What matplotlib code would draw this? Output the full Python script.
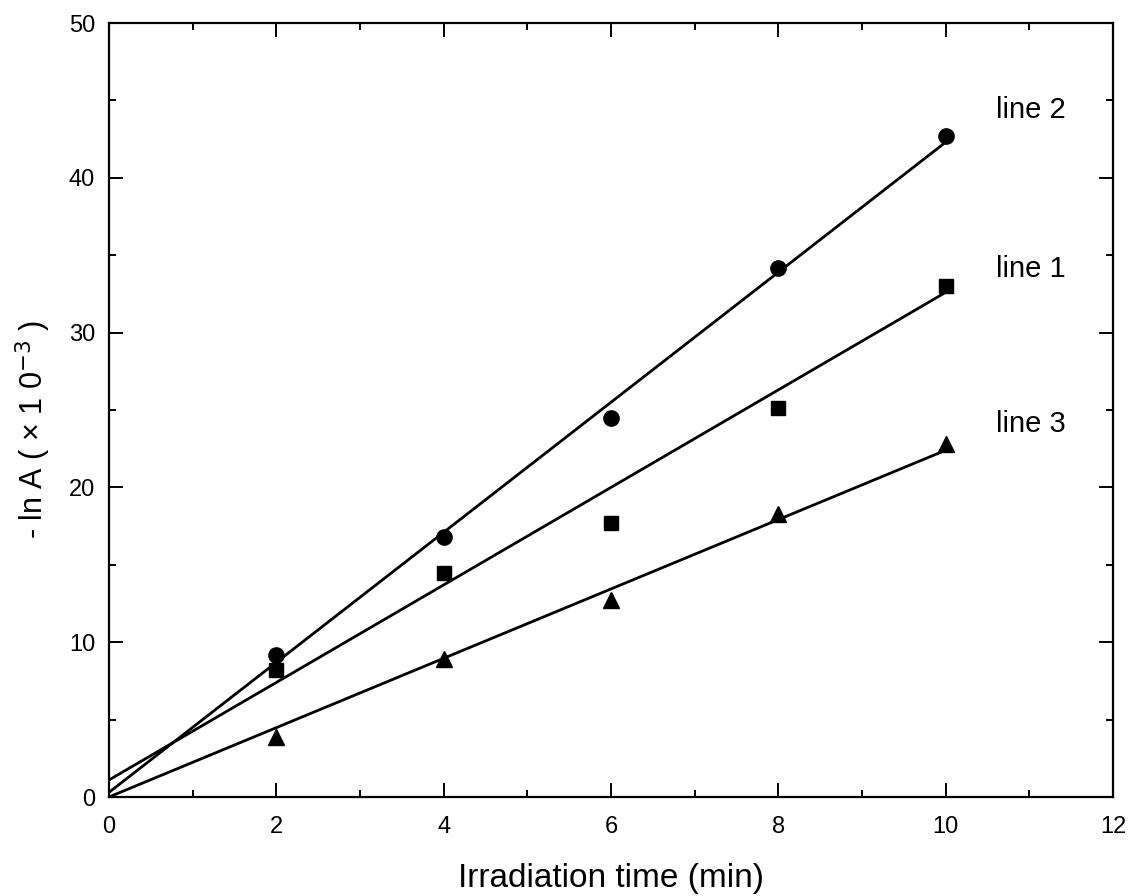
import matplotlib
matplotlib.use("Agg")
import matplotlib.pyplot as plt
import numpy as np
from matplotlib.ticker import MultipleLocator

plt.rcParams['font.family'] = ['Liberation Sans', 'DejaVu Sans']

x_pts = [2, 4, 6, 8, 10]
line1_y = [8.2, 14.5, 17.7, 25.1, 33.0]   # squares
line2_y = [9.2, 16.8, 24.5, 34.2, 42.7]   # circles
line3_y = [3.9, 8.9, 12.7, 18.3, 22.8]    # triangles

# fitted lines (intercept, slope)
line1_fit = (1.1, 3.15)
line2_fit = (0.3, 4.20)
line3_fit = (0.0, 2.24)
fit_x = [0, 10]

labels = ["line 1", "line 2", "line 3"]
label_pos = [(10.6, 34.1), (10.6, 44.4), (10.6, 24.1)]

fig = plt.figure(figsize=(11.31, 8.96), dpi=100)
ax = fig.add_axes([109/1131, 1 - 797/896, (1113-109)/1131, (797-23)/896])

for fit, ys, m, ms in [(line1_fit, line1_y, 's', 9.5),
                        (line2_fit, line2_y, 'o', 11),
                        (line3_fit, line3_y, '^', 12)]:
    fx = np.array(fit_x, dtype=float)
    ax.plot(fx, fit[0] + fit[1] * fx, color='black', lw=2.0)
    ax.plot(x_pts, ys, linestyle='none', marker=m, color='black', ms=ms)

for lab, (lx, ly) in zip(labels, label_pos):
    ax.text(lx, ly, lab, fontsize=21, ha='left', va='center')

ax.set_xlim(0, 12)
ax.set_ylim(0, 50)
ax.xaxis.set_major_locator(MultipleLocator(2))
ax.xaxis.set_minor_locator(MultipleLocator(1))
ax.yaxis.set_major_locator(MultipleLocator(10))
ax.yaxis.set_minor_locator(MultipleLocator(5))
ax.tick_params(which='both', direction='in', top=True, right=True, width=1.4, labelsize=17)
ax.tick_params(axis='x', which='both', pad=14)
ax.tick_params(axis='y', which='both', pad=10)
ax.tick_params(which='major', length=10)
ax.tick_params(which='minor', length=5)
for s in ax.spines.values():
    s.set_linewidth(1.6)

ax.set_xlabel("Irradiation time (min)", fontsize=24, labelpad=18)
fig.text(33/1131, 1 - 430/896, "- ln A ( × 1 0$^{-3}$ )", fontsize=22,
         rotation=90, ha='center', va='center')

fig.savefig("out.png", dpi=100)
